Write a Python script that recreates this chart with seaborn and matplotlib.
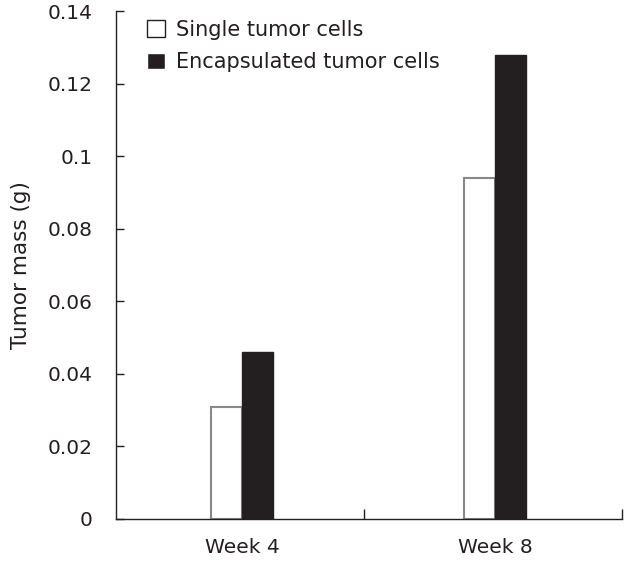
import matplotlib
matplotlib.use("Agg")
import matplotlib.pyplot as plt
import seaborn as sns
import pandas as pd

weeks = ["Week 4", "Week 8"]
groups = ["Single tumor cells", "Encapsulated tumor cells"]
single_mass = [0.031, 0.094]
encap_mass = [0.046, 0.128]
y_ticks = [0, 0.02, 0.04, 0.06, 0.08, 0.1, 0.12, 0.14]
y_tick_labels = ["0", "0.02", "0.04", "0.06", "0.08", "0.1", "0.12", "0.14"]

df = pd.DataFrame({
    "week": weeks * 2,
    "group": [groups[0]] * 2 + [groups[1]] * 2,
    "mass": single_mass + encap_mass,
})

sns.set_style("white")
plt.rcParams["font.family"] = ["DejaVu Sans"]

fig = plt.figure(figsize=(6.3, 5.61), dpi=100)
ax = fig.add_axes([0.184, 0.075, 0.803, 0.905])

sns.barplot(data=df, x="week", y="mass", hue="group", hue_order=groups,
            palette={groups[0]: "white", groups[1]: "#231f20"},
            width=0.245, ax=ax, saturation=1, errorbar=None)

# white bars get a grey outline
for bar in ax.containers[0]:
    bar.set_edgecolor("#888888")
    bar.set_linewidth(1.5)
for bar in ax.containers[1]:
    bar.set_edgecolor("#231f20")

ax.set_xlim(-0.5, 1.5)
ax.set_ylim(0, 0.14)
ax.set_yticks(y_ticks)
ax.set_yticklabels(y_tick_labels)
ax.tick_params(axis="y", left=True, direction="in", length=6, width=1,
               labelsize=14.5, pad=17, colors="#231f20")
ax.tick_params(axis="x", which="major", length=0, labelsize=14.5, pad=14, colors="#231f20")
ax.set_xticks([0.48, 1.5], minor=True)
ax.tick_params(axis="x", which="minor", bottom=True, direction="in", length=7, width=1, color="#231f20")

for s in ["top", "right"]:
    ax.spines[s].set_visible(False)
for s in ["left", "bottom"]:
    ax.spines[s].set_color("#231f20")
    ax.spines[s].set_linewidth(1)

ax.set_xlabel("")
ax.set_ylabel("Tumor mass (g)", fontsize=15.5, color="#231f20", labelpad=12)

leg = ax.legend(loc="upper left", bbox_to_anchor=(0.045, 1.0), frameon=False,
                fontsize=15, handlelength=0.85, handleheight=0.85,
                handletextpad=0.55, labelspacing=0.6, borderaxespad=0)
for txt in leg.get_texts():
    txt.set_color("#231f20")
leg.legend_handles[0].set_edgecolor("#231f20")
leg.legend_handles[0].set_linewidth(1)

fig.savefig("out.png", dpi=100)
